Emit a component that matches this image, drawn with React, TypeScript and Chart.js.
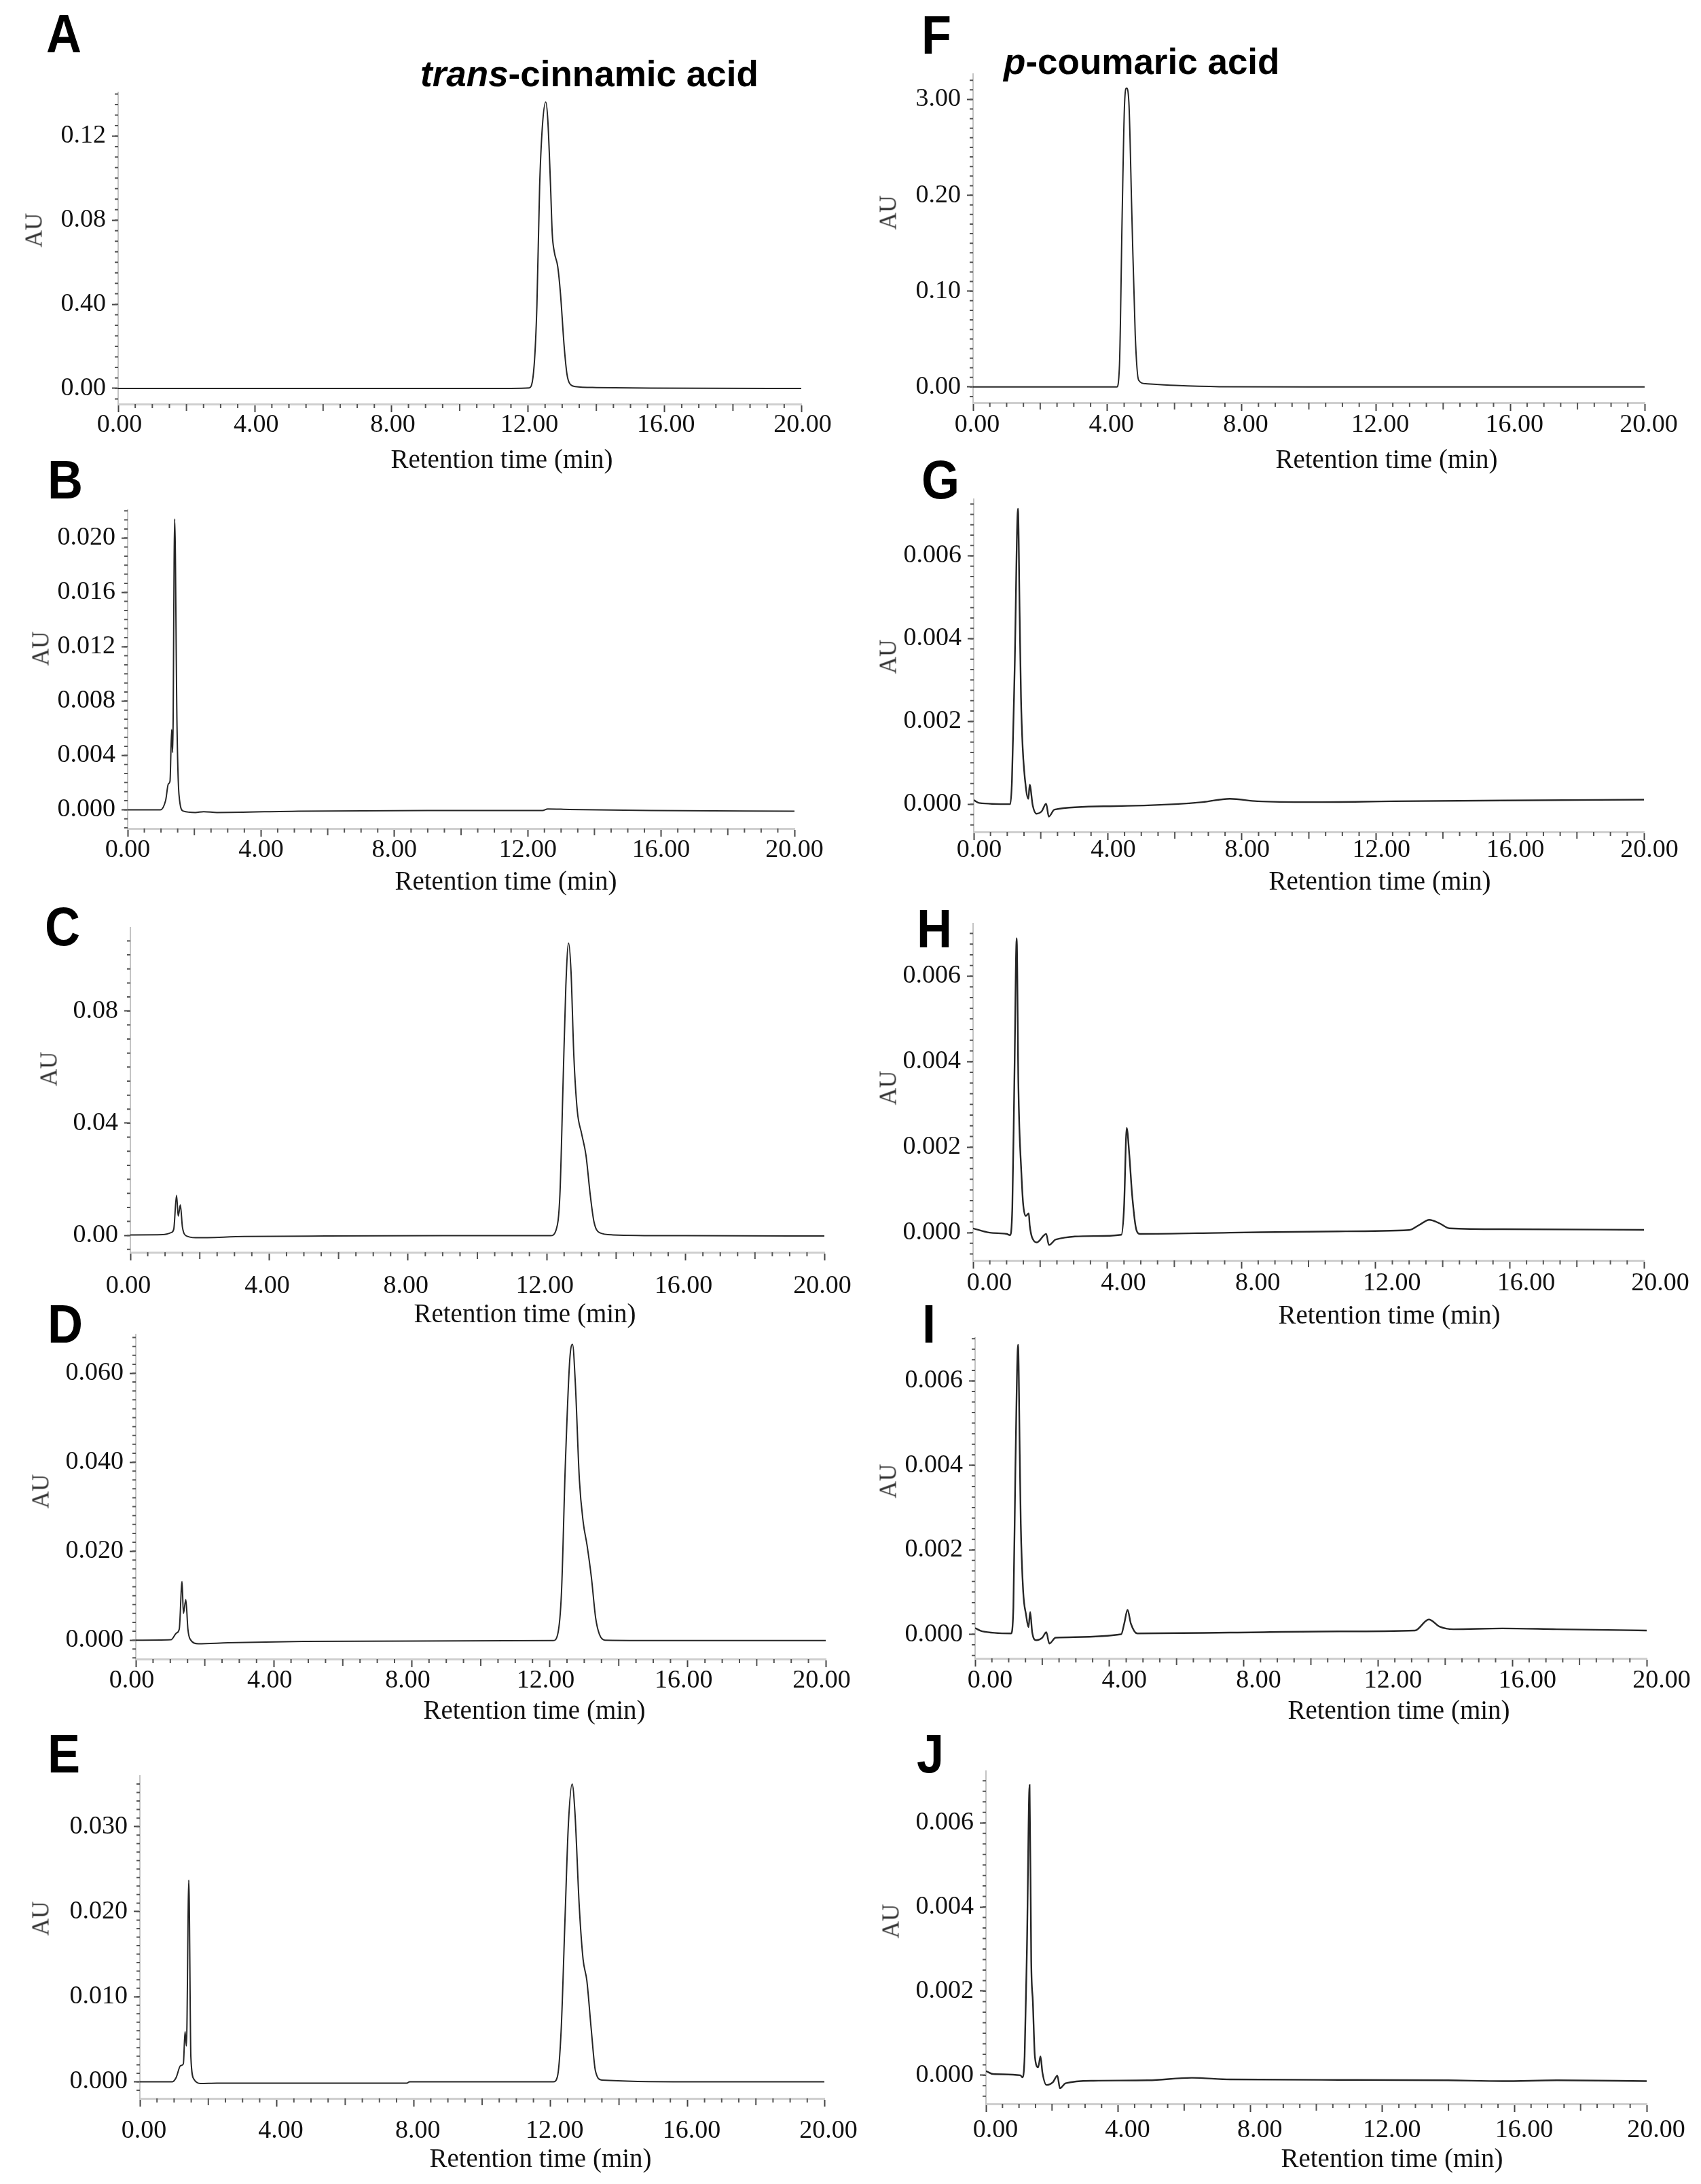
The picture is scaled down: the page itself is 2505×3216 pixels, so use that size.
import React, { useEffect, useRef, Fragment } from 'react';
import { Chart, registerables } from 'chart.js';

Chart.register(...registerables);

// ---------- shared axis data ----------
const xTickValues = [0, 4, 8, 12, 16, 20];
const xTickLabels = ['0.00', '4.00', '8.00', '12.00', '16.00', '20.00'];

// ---------- A: trans-cinnamic acid standard ----------
const timeA = [0, 3, 6, 9, 11.5, 12.03, 12.18, 12.26, 12.34, 12.42, 12.52, 12.58, 12.66, 12.71, 12.77, 12.87, 12.95, 13.06, 13.14, 13.22, 13.38, 14.0, 15.6, 20];
const auA = [0, 0, 0, 0, 0, 0.0002, 0.0111, 0.0394, 0.0961, 0.1245, 0.1362, 0.1274, 0.0961, 0.0734, 0.0649, 0.0579, 0.0451, 0.0196, 0.0068, 0.0023, 0.0009, 0.0004, 0.0001, 0];
const yTicksA = [0, 0.04, 0.08, 0.12];
const yLabelsA = ['0.00', '0.40', '0.08', '0.12'];

// ---------- B ----------
const timeB = [0, 0.98, 1.14, 1.22, 1.27, 1.32, 1.35, 1.41, 1.48, 1.54, 1.67, 2.03, 2.28, 2.68, 5.12, 9, 12.44, 12.6, 13.25, 15.7, 20];
const auB = [0, 0, 0.0007, 0.0019, 0.0021, 0.0059, 0.0042, 0.0214, 0.0062, 0.0011, -0.0001, -0.0002, -0.00014, -0.0002, -0.0001, -0.00005, -0.00006, 0.00006, 0.00002, -0.00006, -0.0001];
const yTicksB = [0, 0.004, 0.008, 0.012, 0.016, 0.02];
const yLabelsB = ['0.000', '0.004', '0.008', '0.012', '0.016', '0.020'];

// ---------- C ----------
const timeC = [0, 0.94, 1.17, 1.25, 1.33, 1.38, 1.44, 1.5, 1.59, 1.88, 3.28, 5.63, 9, 12.11, 12.27, 12.38, 12.47, 12.55, 12.63, 12.7, 12.78, 12.88, 13.0, 13.13, 13.25, 13.36, 13.52, 13.91, 16, 20];
const auC = [0.0002, 0.0003, 0.001, 0.0022, 0.0143, 0.0069, 0.0109, 0.003, 0, -0.0008, -0.0004, -0.0002, -0.0001, -0.0001, 0.002, 0.0148, 0.0543, 0.0889, 0.1042, 0.0938, 0.0642, 0.0444, 0.0365, 0.0286, 0.0148, 0.0049, 0.001, 0.0002, -0.0001, -0.0002];
const yTicksC = [0, 0.04, 0.08];
const yLabelsC = ['0.00', '0.04', '0.08'];

// ---------- D ----------
const timeD = [0, 1.02, 1.18, 1.26, 1.34, 1.38, 1.45, 1.51, 1.57, 1.81, 2.67, 4.87, 8, 12.1, 12.23, 12.34, 12.45, 12.58, 12.66, 12.74, 12.86, 12.97, 13.08, 13.21, 13.33, 13.44, 13.6, 16, 20];
const auD = [0, 0.0001, 0.0016, 0.0025, 0.0132, 0.006, 0.0091, 0.0025, 0.0003, -0.0008, -0.0006, -0.0003, -0.0002, -0.0001, 0.0013, 0.0107, 0.039, 0.063, 0.0665, 0.058, 0.0359, 0.0265, 0.0214, 0.0139, 0.005, 0.0013, 0, -0.0001, -0.0001];
const yTicksD = [0, 0.02, 0.04, 0.06];
const yLabelsD = ['0.000', '0.020', '0.040', '0.060'];

// ---------- E ----------
const timeE = [0, 0.95, 1.06, 1.19, 1.27, 1.32, 1.36, 1.43, 1.49, 1.58, 1.77, 2.25, 5, 7.8, 7.88, 10, 12.08, 12.2, 12.31, 12.42, 12.52, 12.63, 12.71, 12.84, 12.95, 13.06, 13.19, 13.31, 13.5, 16, 20];
const auE = [0, 0, 0.0005, 0.0019, 0.0021, 0.0059, 0.0042, 0.0237, 0.0029, 0.0003, -0.0002, -0.00016, -0.00016, -0.00016, 0, 0, 0, 0.0006, 0.0061, 0.0189, 0.0302, 0.035, 0.0318, 0.0205, 0.0144, 0.0119, 0.0061, 0.0013, 0.0002, 0, 0];
const yTicksE = [0, 0.01, 0.02, 0.03];
const yLabelsE = ['0.000', '0.010', '0.020', '0.030'];

// ---------- F: p-coumaric acid standard ----------
const timeF = [0, 2, 4.28, 4.36, 4.44, 4.51, 4.57, 4.64, 4.73, 4.83, 4.93, 5.14, 6.03, 7.33, 10, 15, 20];
const auF = [0, 0, 0, 0.0227, 0.1785, 0.2938, 0.3118, 0.297, 0.1785, 0.0539, 0.0072, 0.0034, 0.0016, 0.0003, 0, 0, 0];
const yTicksF = [0, 0.1, 0.2, 0.3];
const yLabelsF = ['0.00', '0.10', '0.20', '3.00'];

// ---------- G ----------
const timeG = [0, 0.16, 1.09, 1.14, 1.22, 1.32, 1.37, 1.41, 1.46, 1.56, 1.63, 1.67, 1.76, 1.87, 2.03, 2.16, 2.24, 2.41, 4.07, 6.02, 6.83, 7.64, 8.46, 10.08, 12.52, 15.77, 20];
const auG = [0.0001, 0.00003, 0, 0.00057, 0.00325, 0.00714, 0.00459, 0.00258, 0.00137, 0.00037, 0.00013, 0.00047, -0.00003, -0.00023, -0.00017, 0.00001, -0.0003, -0.00013, -0.00005, 0, 0.00005, 0.00013, 0.00007, 0.00005, 0.00007, 0.00009, 0.00011];

// ---------- H ----------
const timeH = [0, 0.5, 1.0, 1.1, 1.17, 1.23, 1.3, 1.35, 1.38, 1.43, 1.49, 1.57, 1.66, 1.69, 1.82, 1.9, 2.18, 2.26, 2.47, 3.6, 4.42, 4.5, 4.58, 4.66, 4.74, 4.87, 4.98, 7.66, 10.9, 13.0, 13.3, 13.6, 13.9, 14.2, 15.8, 20];
const auH = [0.0001, 0, -0.00003, -0.00006, 0.00058, 0.0035, 0.00689, 0.0035, 0.00246, 0.00156, 0.0007, 0.00039, 0.00045, 0.00016, -0.0002, -0.00023, -0.00003, -0.00029, -0.00016, -0.00008, -0.00005, 0.00058, 0.00245, 0.0018, 0.0009, 0.00006, -0.00003, 0, 0.00003, 0.00006, 0.00018, 0.0003, 0.00022, 0.0001, 0.00008, 0.000065];

// ---------- I ----------
const timeI = [0, 0.21, 1.07, 1.14, 1.2, 1.28, 1.33, 1.36, 1.43, 1.52, 1.59, 1.64, 1.7, 1.82, 2.0, 2.12, 2.21, 2.4, 4.35, 4.44, 4.54, 4.64, 4.83, 7.59, 10.84, 13.1, 13.51, 13.84, 14.24, 15.7, 17.32, 20];
const auI = [0.00015, 0.00007, 0.00002, 0.00064, 0.00393, 0.00686, 0.00426, 0.00262, 0.00104, 0.00045, 0.00017, 0.00053, 0.00005, -0.00014, -0.00008, 0.00005, -0.00022, -0.00008, 0, 0.00025, 0.00058, 0.00025, 0.00002, 0.00004, 0.00007, 0.00009, 0.00035, 0.00018, 0.00012, 0.00014, 0.00012, 0.00009];

// ---------- J ----------
const timeJ = [0, 0.21, 1.04, 1.1, 1.17, 1.24, 1.32, 1.37, 1.42, 1.48, 1.58, 1.65, 1.71, 1.83, 2.03, 2.16, 2.24, 2.41, 3.26, 4.91, 6.23, 7.39, 10.68, 13.98, 15.63, 17.28, 20];
const auJ = [0.0001, 0.00003, 0, -0.00005, 0.00045, 0.00303, 0.0069, 0.00271, 0.00174, 0.00045, 0.00019, 0.00045, 0.00006, -0.00023, -0.00016, -0.00001, -0.00031, -0.00019, -0.00013, -0.00012, -0.00006, -0.0001, -0.00011, -0.00012, -0.00014, -0.00012, -0.00014];

const yTicksSmall = [0, 0.002, 0.004, 0.006];
const yLabelsSmall = ['0.000', '0.002', '0.004', '0.006'];

const xAxisTitle = 'Retention time (min)';
const yAxisTitle = 'AU';

// ---------- layout ----------
type PanelCfg = {
  key: string; letter: string; time: number[]; au: number[];
  yTicks: number[]; yLabels: string[]; yMinorStep: number; yMin: number; yMax: number;
  colLeft: number; plotLeft: number; plotRight: number; plotTop: number; plotBottom: number;
  xLabelPad: number; xLabelShift: number; lineW: number; letterLeft: number; letterTop: number;
  auX: number; auY: number; titleX: number; titleY: number;
};

const PANELS: PanelCfg[] = [
  { key: 'A', letter: 'A', time: timeA, au: auA, yTicks: yTicksA, yLabels: yLabelsA, yMinorStep: 0.005, yMin: -0.00745, yMax: 0.1408,
    colLeft: 0, plotLeft: 174, plotRight: 1180, plotTop: 128, plotBottom: 595, xLabelPad: 0, xLabelShift: 2, lineW: 2, letterLeft: 68, letterTop: 20, auX: 50, auY: 339, titleX: 739, titleY: 675 },
  { key: 'B', letter: 'B', time: timeB, au: auB, yTicks: yTicksB, yLabels: yLabelsB, yMinorStep: 0.004 / 6, yMin: -0.00138, yMax: 0.02206,
    colLeft: 0, plotLeft: 188, plotRight: 1170, plotTop: 743, plotBottom: 1220, xLabelPad: 1, xLabelShift: 0, lineW: 2, letterLeft: 70, letterTop: 677, auX: 60, auY: 955, titleX: 745, titleY: 1296 },
  { key: 'C', letter: 'C', time: timeC, au: auC, yTicks: yTicksC, yLabels: yLabelsC, yMinorStep: 0.005, yMin: -0.006, yMax: 0.1097,
    colLeft: 0, plotLeft: 192, plotRight: 1214, plotTop: 1358, plotBottom: 1844, xLabelPad: 19, xLabelShift: -3, lineW: 2, letterLeft: 66, letterTop: 1335, auX: 72, auY: 1574, titleX: 773, titleY: 1933 },
  { key: 'D', letter: 'D', time: timeD, au: auD, yTicks: yTicksD, yLabels: yLabelsD, yMinorStep: 0.002, yMin: -0.00425, yMax: 0.0687,
    colLeft: 0, plotLeft: 200, plotRight: 1216, plotTop: 1957, plotBottom: 2443, xLabelPad: 1, xLabelShift: -6, lineW: 2, letterLeft: 70, letterTop: 1920, auX: 60, auY: 2196, titleX: 787, titleY: 2517 },
  { key: 'E', letter: 'E', time: timeE, au: auE, yTicks: yTicksE, yLabels: yLabelsE, yMinorStep: 0.001, yMin: -0.00196, yMax: 0.03596,
    colLeft: 0, plotLeft: 206, plotRight: 1214, plotTop: 2607, plotBottom: 3090, xLabelPad: 17, xLabelShift: 6, lineW: 2, letterLeft: 70, letterTop: 2553, auX: 60, auY: 2825, titleX: 796, titleY: 3177 },
  { key: 'F', letter: 'F', time: timeF, au: auF, yTicks: yTicksF, yLabels: yLabelsF, yMinorStep: 0.01, yMin: -0.0164, yMax: 0.3265,
    colLeft: 1250, plotLeft: 1433, plotRight: 2422, plotTop: 101, plotBottom: 593, xLabelPad: 2, xLabelShift: 6, lineW: 2, letterLeft: 1357, letterTop: 22, auX: 1308, auY: 313, titleX: 2042, titleY: 675 },
  { key: 'G', letter: 'G', time: timeG, au: auG, yTicks: yTicksSmall, yLabels: yLabelsSmall, yMinorStep: 0.00025, yMin: -0.00067, yMax: 0.00737,
    colLeft: 1250, plotLeft: 1434, plotRight: 2421, plotTop: 727, plotBottom: 1225, xLabelPad: -4, xLabelShift: 8, lineW: 2.4, letterLeft: 1357, letterTop: 677, auX: 1308, auY: 967, titleX: 2032, titleY: 1296 },
  { key: 'H', letter: 'H', time: timeH, au: auH, yTicks: yTicksSmall, yLabels: yLabelsSmall, yMinorStep: 0.00025, yMin: -0.00065, yMax: 0.00723,
    colLeft: 1250, plotLeft: 1433, plotRight: 2421, plotTop: 1352, plotBottom: 1856, xLabelPad: 3, xLabelShift: 24, lineW: 2.4, letterLeft: 1350, letterTop: 1338, auX: 1308, auY: 1602, titleX: 2046, titleY: 1935 },
  { key: 'I', letter: 'I', time: timeI, au: auI, yTicks: yTicksSmall, yLabels: yLabelsSmall, yMinorStep: 0.00025, yMin: -0.00057, yMax: 0.00702,
    colLeft: 1250, plotLeft: 1436, plotRight: 2425, plotTop: 1962, plotBottom: 2442, xLabelPad: 2, xLabelShift: 22, lineW: 2.4, letterLeft: 1358, letterTop: 1920, auX: 1308, auY: 2181, titleX: 2060, titleY: 2517 },
  { key: 'J', letter: 'J', time: timeJ, au: auJ, yTicks: yTicksSmall, yLabels: yLabelsSmall, yMinorStep: 0.00025, yMin: -0.00068, yMax: 0.00723,
    colLeft: 1250, plotLeft: 1452, plotRight: 2425, plotTop: 2600, plotBottom: 3098, xLabelPad: 8, xLabelShift: 14, lineW: 2.4, letterLeft: 1350, letterTop: 2553, auX: 1312, auY: 2829, titleX: 2050, titleY: 3177 },
];

const PAD_T = 20;
const X_H = 100;
const SERIF = '"Liberation Serif", "Times New Roman", serif';
const SANS = '"Liberation Sans", Arial, sans-serif';

const minorTicksPlugin = {
  id: 'minorTicks',
  afterDraw(chart: any, _args: any, opts: any) {
    const { ctx, scales } = chart;
    const xs = scales.x;
    const ys = scales.y;
    ctx.save();
    ctx.strokeStyle = '#555';
    ctx.lineWidth = 2;
    ctx.beginPath();
    const step = opts.yStep;
    const k0 = Math.ceil(ys.min / step - 1e-6);
    const k1 = Math.floor(ys.max / step + 1e-6);
    for (let k = k0; k <= k1; k++) {
      const py = ys.getPixelForValue(k * step);
      ctx.moveTo(ys.right - 5, py);
      ctx.lineTo(ys.right, py);
    }
    for (let k = 1; k < 40; k++) {
      if (k % 8 === 0) continue;
      const px = xs.getPixelForValue(k * 0.5);
      const len = k % 4 === 0 ? 10 : 6;
      ctx.moveTo(px, xs.top);
      ctx.lineTo(px, xs.top + len);
    }
    ctx.stroke();
    ctx.restore();
  },
};

function ChromPanel({ cfg }: { cfg: PanelCfg }) {
  const ref = useRef<HTMLCanvasElement>(null);
  const cw = cfg.colLeft === 0 ? 1300 : 1255;
  const top = cfg.plotTop - PAD_T;
  const ch = cfg.plotBottom - cfg.plotTop + PAD_T + X_H;

  useEffect(() => {
    if (!ref.current) return;
    const points = cfg.time.map((t, i) => ({ x: t, y: cfg.au[i] }));
    const chart = new Chart(ref.current, {
      type: 'line',
      data: {
        datasets: [{
          data: points,
          borderColor: '#262626',
          borderWidth: cfg.lineW,
          pointRadius: 0,
          fill: false,
          cubicInterpolationMode: 'monotone',
        }],
      },
      options: {
        animation: false,
        responsive: false,
        devicePixelRatio: 1,
        events: [],
        layout: {
          autoPadding: false,
          padding: { left: 0, top: PAD_T, right: cw - (cfg.plotRight - cfg.colLeft), bottom: 0 },
        } as any,
        plugins: {
          legend: { display: false },
          tooltip: { enabled: false },
          minorTicks: { yStep: cfg.yMinorStep },
        } as any,
        scales: {
          x: {
            type: 'linear',
            min: 0,
            max: 20,
            afterBuildTicks: (s: any) => { s.ticks = xTickValues.map((v) => ({ value: v })); },
            afterFit: (s: any) => { s.height = X_H; },
            grid: { display: true, drawOnChartArea: false, drawTicks: true, tickLength: 12, color: '#444', tickColor: '#444', tickWidth: 2 },
            border: { display: true, color: '#cfcfcf', width: 3 },
            ticks: {
              autoSkip: false,
              maxRotation: 0,
              padding: cfg.xLabelPad,
              labelOffset: cfg.xLabelShift,
              color: '#111',
              font: { family: SERIF, size: 38, lineHeight: 1 },
              callback: (_v: any, i: number) => xTickLabels[i],
            },
          },
          y: {
            type: 'linear',
            min: cfg.yMin,
            max: cfg.yMax,
            afterBuildTicks: (s: any) => { s.ticks = cfg.yTicks.map((v) => ({ value: v })); },
            afterFit: (s: any) => { s.width = cfg.plotLeft - cfg.colLeft; },
            grid: { display: true, drawOnChartArea: false, drawTicks: true, tickLength: 9, color: '#444', tickColor: '#444', tickWidth: 2 },
            border: { display: true, color: '#c4c4c4', width: 2 },
            ticks: {
              autoSkip: false,
              padding: 9,
              color: '#111',
              font: { family: SERIF, size: 38, lineHeight: 1 },
              callback: (_v: any, i: number) => cfg.yLabels[i],
            },
          },
        },
      },
      plugins: [minorTicksPlugin as any],
    });
    return () => chart.destroy();
  }, []);

  return (
    <canvas
      ref={ref}
      width={cw}
      height={ch}
      style={{ position: 'absolute', left: cfg.colLeft, top, width: cw, height: ch }}
    />
  );
}

const centered = (x: number, y: number, extra: React.CSSProperties = {}): React.CSSProperties => ({
  position: 'absolute',
  left: x,
  top: y,
  whiteSpace: 'nowrap',
  lineHeight: 1,
  transform: 'translate(-50%, -50%)',
  ...extra,
});

export default function App() {
  return (
    <div style={{ position: 'absolute', left: 0, top: 0, width: 2505, height: 3216, background: '#ffffff', overflow: 'hidden' }}>
      {PANELS.map((p) => <ChromPanel key={p.key} cfg={p} />)}
      {PANELS.map((p) => (
        <Fragment key={'txt' + p.key}>
          <div style={{
            position: 'absolute', left: p.letterLeft, top: p.letterTop - 10, fontFamily: SANS, fontWeight: 700,
            fontSize: 80, lineHeight: '80px', color: '#000', transform: 'scaleX(0.9)', transformOrigin: 'left top',
          }}>{p.letter}</div>
          <div style={centered(p.auX, p.auY, { fontFamily: SERIF, fontSize: 35, color: '#333', transform: 'translate(-50%, -50%) rotate(-90deg)' })}>
            {yAxisTitle}
          </div>
          <div style={centered(p.titleX, p.titleY, { fontFamily: SERIF, fontSize: 39, color: '#111' })}>
            {xAxisTitle}
          </div>
        </Fragment>
      ))}
      <div style={{ position: 'absolute', left: 619, top: 82, fontFamily: SANS, fontWeight: 700, fontSize: 53, lineHeight: 1, color: '#000', whiteSpace: 'nowrap' }}>
        <i>trans</i>-cinnamic acid
      </div>
      <div style={{ position: 'absolute', left: 1478, top: 64, fontFamily: SANS, fontWeight: 700, fontSize: 53, lineHeight: 1, color: '#000', whiteSpace: 'nowrap' }}>
        <i>p</i>-coumaric acid
      </div>
    </div>
  );
}
